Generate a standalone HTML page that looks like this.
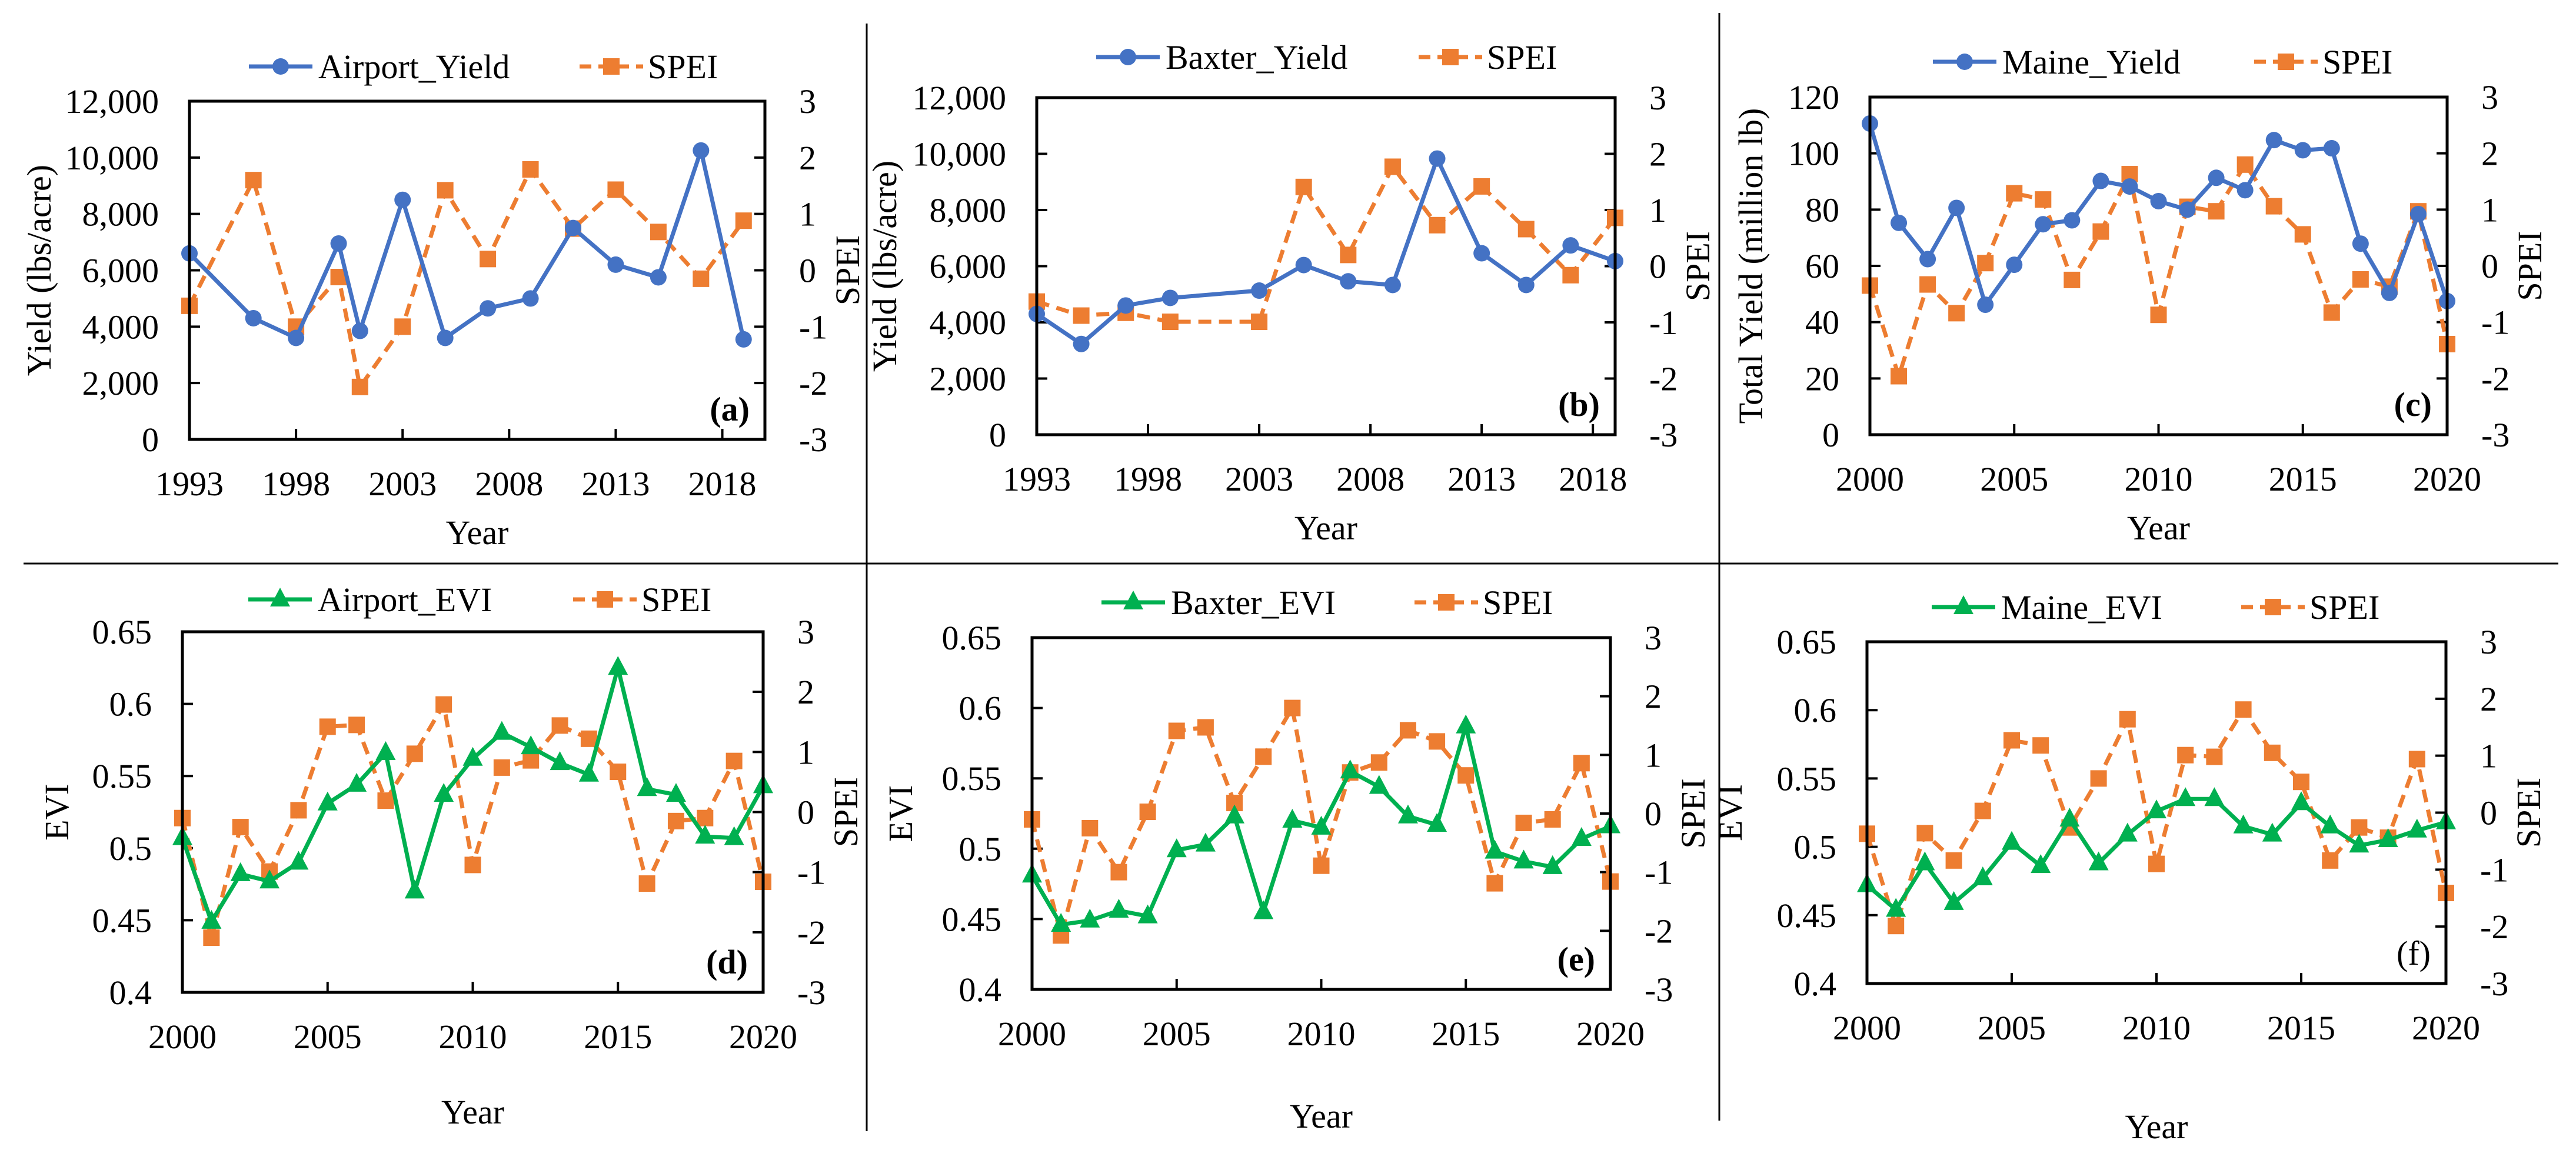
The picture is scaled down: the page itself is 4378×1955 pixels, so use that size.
<!DOCTYPE html>
<html><head><meta charset="utf-8"><style>
html,body{margin:0;padding:0;background:#fff;}
svg, svg text{font-family:"Liberation Serif","Times New Roman",serif;}
svg{display:block;}
</style></head>
<body>
<svg id="fig" xmlns="http://www.w3.org/2000/svg" width="4378" height="1955" viewBox="0 0 4378 1955" font-family="Liberation Serif, serif">
<rect width="4378" height="1955" fill="#fff"/>
<line x1="40" y1="958" x2="4348" y2="958" stroke="#000" stroke-width="3"/>
<line x1="1473" y1="40" x2="1473" y2="958" stroke="#000" stroke-width="3"/>
<line x1="2922" y1="22" x2="2922" y2="958" stroke="#000" stroke-width="3"/>
<line x1="1473" y1="958" x2="1473" y2="1923" stroke="#000" stroke-width="3"/>
<line x1="2922" y1="958" x2="2922" y2="1905" stroke="#000" stroke-width="3"/>
</svg>
<script>
// ---- data ----
const yearsA = [1993,1996,1998,2000,2001,2003,2005,2007,2009,2011,2013,2015,2017,2019];
const yieldA = [6600,4300,3600,6950,3850,8500,3600,4650,5000,7500,6200,5750,10250,3550];
const speiA  = [-0.63,1.6,-1.0,-0.12,-2.07,-1.0,1.42,0.2,1.79,0.74,1.43,0.68,-0.15,0.88];

const yearsB = [1993,1995,1997,1999,2003,2005,2007,2009,2011,2013,2015,2017,2019];
const yieldB = [4300,3230,4600,4870,5130,6040,5460,5330,9830,6460,5330,6740,6180];
const speiB  = [-0.63,-0.88,-0.83,-0.99,-0.99,1.41,0.2,1.77,0.73,1.42,0.66,-0.16,0.86];

const yearsC = [2000,2001,2002,2003,2004,2005,2006,2007,2008,2009,2010,2011,2012,2013,2014,2015,2016,2017,2018,2019,2020];
const yieldC = [110.6,75.3,62.4,80.6,46.2,60.4,74.8,76.2,90.2,88.2,83,80,91.3,86.9,104.7,101.1,101.8,67.9,50.4,78.4,47.5];
const speiC  = [-0.35,-1.96,-0.33,-0.84,0.05,1.29,1.18,-0.25,0.61,1.63,-0.87,1.05,0.97,1.8,1.06,0.56,-0.83,-0.24,-0.37,0.97,-1.39];

const yearsEVI = [2000,2001,2002,2003,2004,2005,2006,2007,2008,2009,2010,2011,2012,2013,2014,2015,2016,2017,2018,2019,2020];
const eviD  = [0.507,0.449,0.482,0.477,0.49,0.531,0.544,0.566,0.47,0.537,0.562,0.58,0.57,0.559,0.551,0.625,0.541,0.537,0.508,0.507,0.543];
const speiD = [-0.1,-2.09,-0.25,-0.99,0.03,1.42,1.45,0.19,0.97,1.79,-0.88,0.74,0.86,1.44,1.22,0.67,-1.19,-0.15,-0.1,0.85,-1.16];
const eviE  = [0.481,0.446,0.449,0.456,0.452,0.499,0.503,0.523,0.455,0.52,0.515,0.555,0.544,0.523,0.517,0.587,0.498,0.491,0.487,0.507,0.516];
const speiE = [-0.1,-2.08,-0.25,-1.0,0.03,1.41,1.47,0.18,0.97,1.8,-0.89,0.7,0.87,1.42,1.23,0.65,-1.19,-0.16,-0.1,0.86,-1.16];
const eviF  = [0.472,0.454,0.488,0.459,0.477,0.503,0.486,0.52,0.488,0.509,0.526,0.535,0.535,0.515,0.509,0.532,0.515,0.501,0.505,0.512,0.518];
const speiF = [-0.37,-1.99,-0.36,-0.84,0.03,1.27,1.18,-0.26,0.6,1.64,-0.9,1.01,0.98,1.81,1.05,0.54,-0.84,-0.26,-0.44,0.94,-1.41];

const yieldTicksAB = [0,2000,4000,6000,8000,10000,12000];
const yieldTickLabelsAB = ["0","2,000","4,000","6,000","8,000","10,000","12,000"];
const yieldTicksC = [0,20,40,60,80,100,120];
const eviTicks = [0.4,0.45,0.5,0.55,0.6,0.65];
const eviTickLabels = ["0.4","0.45","0.5","0.55","0.6","0.65"];
const speiTicks = [-3,-2,-1,0,1,2,3];
const xTicksYield = [1993,1998,2003,2008,2013,2018];
const xTicksEVI = [2000,2005,2010,2015,2020];

const NS = "http://www.w3.org/2000/svg";
const svg = document.getElementById('fig');
const BLUE="#4472C4", ORANGE="#ED7D31", GREEN="#00B050";
const FS = 58;
const FONT = '"Liberation Serif", "Times New Roman", serif';

function mk(tag, attrs, parent){
  const e = document.createElementNS(NS, tag);
  for (const k in attrs) e.setAttribute(k, attrs[k]);
  (parent||svg).appendChild(e);
  return e;
}
function txt(parent, x, y, s, anchor, extra){
  const t = mk('text', Object.assign({x:x, y:y, 'font-size':FS, 'font-family':FONT, 'text-anchor':anchor||'middle', fill:'#000'}, extra||{}), parent);
  t.textContent = s;
  return t;
}
function marker(g, type, cx, cy, color){
  let m;
  if (type==='circle') m = mk('circle',{cx:cx,cy:cy,r:14,fill:color},g);
  else if (type==='square') m = mk('rect',{x:cx-14,y:cy-14,width:28,height:28,fill:color},g);
  else m = mk('polygon',{points:`${cx},${cy-20} ${cx-17},${cy+12} ${cx+17},${cy+12}`,fill:color},g);
  return m;
}

function panel(c){
  const g = mk('g',{});
  
  
  const L=c.box[0], T=c.box[1], R=c.box[2], B=c.box[3];
  const sx = v => L + (v - c.xmin)/(c.xmax - c.xmin)*(R-L);
  const syL = v => B - (v - c.ymin)/(c.ymax - c.ymin)*(B-T);
  const syR = v => B - (v + 3)/6*(B-T);

  c.yTicks.forEach((v,i)=>{
    const y = syL(v);
    if (i>0 && i<c.yTicks.length-1) {
      const tk = mk('line',{x1:L,y1:y,x2:L+18,y2:y,stroke:'#000','stroke-width':4},g);
      
      
    }
    const t = txt(g, L-52, y+20, c.yLabels[i], 'end');
    
    
  });
  speiTicks.forEach(v=>{
    const y = syR(v);
    if (v>-3 && v<3) {
      const tk = mk('line',{x1:R-18,y1:y,x2:R,y2:y,stroke:'#000','stroke-width':4},g);
      
      
    }
    const t = txt(g, R+58, y+20, String(v), 'start');
    
    
  });
  c.xTicks.forEach(v=>{
    const x = sx(v);
    if (x>L+2 && x<R-2) {
      const tk = mk('line',{x1:x,y1:B-18,x2:x,y2:B,stroke:'#000','stroke-width':4},g);
      
      
    }
    const t = txt(g, x, c.xLabelY, String(v), 'middle');
    
    
  });

  function series(xs, ys, sy, color, type, dashed, name){
    const sg = mk('g',{},g);
    
    
    const pts = xs.map((x,i)=>`${sx(x)},${sy(ys[i])}`).join(' ');
    const pl = mk('polyline',{points:pts,fill:'none',stroke:color,'stroke-width':dashed?7:7,'stroke-linejoin':'round','stroke-dasharray':dashed?'22 13':'none'},sg);
    
    
    xs.forEach((x,i)=>{
      const m = marker(sg, type, sx(x), sy(ys[i]), color);
      
      
    });
  }
  series(c.xs, c.spei, syR, ORANGE, 'square', true, 'spei-series');
  series(c.xs, c.ys, syL, c.color, c.mtype, false, c.seriesName);

  const bx = mk('rect',{x:L,y:T,width:R-L,height:B-T,fill:'none',stroke:'#000','stroke-width':5},g);
  
  

  const yl = txt(g, 0, 0, c.yTitle, 'middle', {transform:`translate(${c.yTitleX},${(T+B)/2}) rotate(-90)`});
  
  
  const sp = txt(g, 0, 0, 'SPEI', 'middle', {transform:`translate(${R+160},${(T+B)/2}) rotate(-90)`});
  
  
  const xt = txt(g, (L+R)/2, c.yearY, 'Year', 'middle');
  
  

  const pl = txt(g, R-26, B-32, c.letter, 'end', {'font-weight': c.bold?'bold':'normal'});
  
  

  const lg = mk('g',{},g);
  
  
  const lx = L + c.legOff, ly = c.legY;
  const e1 = mk('g',{},lg);
  
  
  mk('line',{x1:lx,y1:ly,x2:lx+108,y2:ly,stroke:c.color,'stroke-width':7},e1);
  marker(e1, c.mtype, lx+54, ly, c.color);
  txt(e1, lx+118, ly+20, c.legendText, 'start');
  const e2 = mk('g',{},lg);
  
  
  const l2 = lx + c.leg2;
  mk('line',{x1:l2,y1:ly,x2:l2+108,y2:ly,stroke:ORANGE,'stroke-width':7,'stroke-dasharray':'20 12'},e2);
  marker(e2, 'square', l2+54, ly, ORANGE);
  txt(e2, l2+116, ly+20, 'SPEI', 'start');
}

panel({id:'a', box:[322,172,1300,747], xmin:1993, xmax:2020, ymin:0, ymax:12000,
  yTicks:yieldTicksAB, yLabels:yieldTickLabelsAB, xTicks:xTicksYield, xs:yearsA, ys:yieldA, spei:speiA,
  color:BLUE, mtype:'circle', seriesName:'airport-yield', legendText:'Airport_Yield',
  yTitle:'Yield (lbs/acre)', yTitleX:86, xLabelY:842, yearY:925, letter:'(a)', bold:true, legOff:101, legY:113, leg2:562});
panel({id:'b', box:[1762,166,2745,739], xmin:1993, xmax:2019, ymin:0, ymax:12000,
  yTicks:yieldTicksAB, yLabels:yieldTickLabelsAB, xTicks:xTicksYield, xs:yearsB, ys:yieldB, spei:speiB,
  color:BLUE, mtype:'circle', seriesName:'baxter-yield', legendText:'Baxter_Yield',
  yTitle:'Yield (lbs/acre)', yTitleX:1523, xLabelY:834, yearY:917, letter:'(b)', bold:true, legOff:101, legY:97, leg2:548});
panel({id:'c', box:[3178,165,4159,739], xmin:2000, xmax:2020, ymin:0, ymax:120,
  yTicks:yieldTicksC, yLabels:yieldTicksC.map(String), xTicks:xTicksEVI, xs:yearsC, ys:yieldC, spei:speiC,
  color:BLUE, mtype:'circle', seriesName:'maine-yield', legendText:'Maine_Yield',
  yTitle:'Total Yield  (million lb)', yTitleX:2995, xLabelY:834, yearY:917, letter:'(c)', bold:true, legOff:107, legY:105, leg2:546});
panel({id:'d', box:[310,1074,1297,1687], xmin:2000, xmax:2020, ymin:0.4, ymax:0.65,
  yTicks:eviTicks, yLabels:eviTickLabels, xTicks:xTicksEVI, xs:yearsEVI, ys:eviD, spei:speiD,
  color:GREEN, mtype:'triangle', seriesName:'airport-evi', legendText:'Airport_EVI',
  yTitle:'EVI', yTitleX:116, xLabelY:1782, yearY:1910, letter:'(d)', bold:true, legOff:112, legY:1019, leg2:552});
panel({id:'e', box:[1754,1084,2737,1682], xmin:2000, xmax:2020, ymin:0.4, ymax:0.65,
  yTicks:eviTicks, yLabels:eviTickLabels, xTicks:xTicksEVI, xs:yearsEVI, ys:eviE, spei:speiE,
  color:GREEN, mtype:'triangle', seriesName:'baxter-evi', legendText:'Baxter_EVI',
  yTitle:'EVI', yTitleX:1550, xLabelY:1777, yearY:1917, letter:'(e)', bold:true, legOff:118, legY:1024, leg2:532});
panel({id:'f', box:[3173,1091,4157,1672], xmin:2000, xmax:2020, ymin:0.4, ymax:0.65,
  yTicks:eviTicks, yLabels:eviTickLabels, xTicks:xTicksEVI, xs:yearsEVI, ys:eviF, spei:speiF,
  color:GREEN, mtype:'triangle', seriesName:'maine-evi', legendText:'Maine_EVI',
  yTitle:'EVI', yTitleX:2960, xLabelY:1767, yearY:1935, letter:'(f)', bold:false, legOff:110, legY:1032, leg2:526});
</script>
</body></html>
